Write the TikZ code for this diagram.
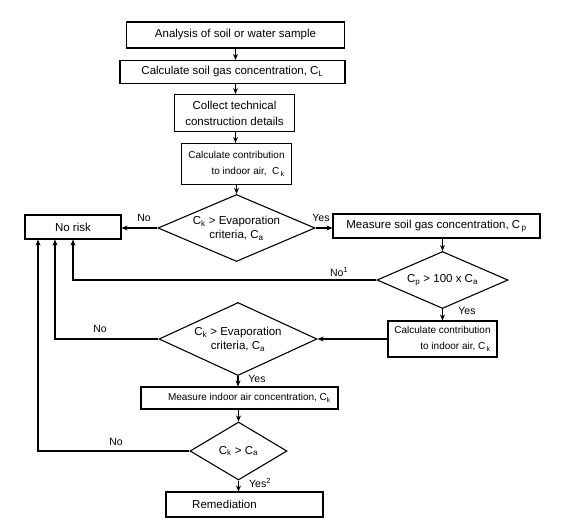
\documentclass[tikz,border=0pt]{standalone}
\usepackage{fontspec}
\setmainfont{Liberation Sans}
\usetikzlibrary{shapes.geometric,arrows.meta}
\begin{document}
\begin{tikzpicture}[x=1pt,y=-1pt]
\tikzset{
 box/.style={draw,line width=1.1pt,font=\fontsize{11.5}{16}\selectfont,inner sep=0pt,align=center},
 sbox/.style={box,font=\fontsize{10}{16}\selectfont,align=right},
 dia/.style={draw,diamond,line width=1.1pt,inner sep=0pt,font=\fontsize{11.5}{14}\selectfont,align=center},
 arr/.style={line width=1.1pt,-{Stealth[length=6pt,width=5pt]}},
 lbl/.style={font=\fontsize{10.5}{12}\selectfont,inner sep=0pt}
}
\fill[white] (0,0) rectangle (572,528);
\useasboundingbox (0,0) rectangle (572,528);

\node[box,minimum width=218pt,minimum height=26pt] (b1) at (235.5,35) {Analysis of soil or water sample};
\node[box,minimum width=225pt,minimum height=23pt] (b2) at (232.5,72) {Calculate soil gas concentration, C\textsubscript{L}};
\node[box,minimum width=120pt,minimum height=37pt] (b3) at (234.5,113) {Collect technical\\construction details};
\node[sbox,minimum width=110pt,minimum height=41pt] (b4) at (236.5,164) {Calculate contribution\\to indoor air,\ \ C\textsubscript{\,k}};
\node[dia,aspect=2.34,minimum width=157pt,minimum height=67pt] (d1) at (236.5,228) {C\textsubscript{k} > Evaporation\\criteria, C\textsubscript{a}};
\node[box,minimum width=96pt,minimum height=24pt] (nr) at (73,227) {No risk};
\node[box,minimum width=207pt,minimum height=24pt] (ms) at (436.5,226) {Measure soil gas concentration, C\textsubscript{\,p}};
\node[dia,aspect=2.3,minimum width=131pt,minimum height=57pt] (d2) at (442.5,280) {C\textsubscript{p} > 100 x C\textsubscript{a}};
\node[sbox,minimum width=109pt,minimum height=36pt] (c2) at (442.5,339) {Calculate contribution\\to indoor air, C\textsubscript{\,k}};
\node[dia,aspect=2.16,minimum width=158pt,minimum height=73pt] (d3) at (238,339) {C\textsubscript{k} > Evaporation\\criteria, C\textsubscript{a}};
\node[box,font=\fontsize{10}{12}\selectfont,minimum width=197pt,minimum height=22pt] (mi) at (239.5,398) {\hspace*{20pt}Measure indoor air concentration, C\textsubscript{k}};
\node[dia,aspect=1.67,minimum width=97pt,minimum height=58pt] (d4) at (238.5,451) {C\textsubscript{k} > C\textsubscript{a}};
\node[box,minimum width=157pt,minimum height=25pt] (rem) at (244.5,504.5) {Remediation\hspace*{40pt}};

\draw[arr] (b1.south) -- (b2.north -| b1.south);
\draw[arr] (b2.south -| b1.south) -- (b3.north -| b1.south);
\draw[arr] (b3.south -| b1.south) -- (b4.north -| b1.south);
\draw[arr] (b4.south) -- (d1.north);
\draw[arr] (d1.west) -- (d1.west -| nr.east);
\draw[arr] (d1.east) -- (d1.east -| ms.west);
\draw[arr] (ms.south -| d2.north) -- (d2.north);
\draw[arr] (d2.south) -- (d2.south |- c2.north);
\draw[arr] (c2.west |- d3.east) -- (d3.east);
\draw[arr] (d3.south) -- (mi.north -| d3.south);
\draw[arr] (mi.south -| d4.north) -- (d4.north);
\draw[arr] (d4.south) -- (rem.north -| d4.south);
\draw[arr] (d2.west) -| (nr.south);
\draw[arr] (d3.west) -| ([xshift=-18pt]nr.south);
\draw[arr] (d4.west) -| ([xshift=-35pt]nr.south);

\node[lbl] (l1) at (144,218) {No};
\node[lbl] (l2) at (321,218) {Yes};
\node[lbl] (l3) at (339,272) {No\textsuperscript{1}};
\node[lbl] (l4) at (467,311) {Yes};
\node[lbl] (l5) at (100,329) {No};
\node[lbl] (l6) at (257,379) {Yes};
\node[lbl] (l7) at (116,442) {No};
\node[lbl] (l8) at (260,483) {Yes\textsuperscript{2}};
\end{tikzpicture}
\end{document}
